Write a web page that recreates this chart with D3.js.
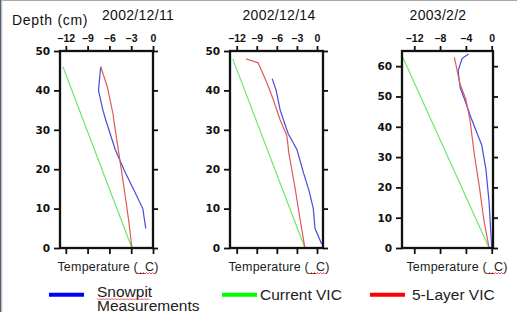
<!DOCTYPE html>
<html>
<head>
<meta charset="utf-8">
<script src="https://cdn.jsdelivr.net/npm/d3@7"></script>
<style>
  body { margin: 0; background: #fff; }
  svg { display: block; }
</style>
</head>
<body>
<svg id="chart" width="517" height="312"></svg>
<script>
// data: [temperature (C), depth (cm)]
var dates = ["2002/12/11", "2002/12/14", "2003/2/2"];
var xTicks = [[-12, -9, -6, -3, 0], [-12, -9, -6, -3, 0], [-12, -8, -4, 0]];
var yTicks = [[0, 10, 20, 30, 40, 50], [0, 10, 20, 30, 40, 50], [0, 10, 20, 30, 40, 50, 60]];

var snowpit1 = [[-7.2, 46], [-7.5, 40], [-6.9, 35], [-6.5, 32.5], [-5.2, 25], [-3.9, 19.5], [-2.7, 15], [-1.4, 10], [-1.0, 5]];
var current1 = [[-12.4, 46], [-2.9, 0]];
var layer1 = [[-7.2, 46], [-6.3, 41], [-5.5, 34], [-5.4, 32.5], [-4.7, 24], [-4.0, 15.5], [-3.35, 7], [-2.9, 0]];

var snowpit2 = [[-6.7, 43], [-6.1, 40], [-5.5, 35], [-5.0, 32.5], [-4.3, 29], [-3.0, 25], [-2.0, 19], [-1.15, 14.3], [-0.55, 10], [-0.3, 5], [0.7, 1]];
var current2 = [[-12.6, 48], [-1.8, 0]];
var layer2 = [[-10.6, 48], [-8.8, 47], [-7.5, 42], [-6.5, 37.5], [-5.5, 32.5], [-4.5, 28.5], [-4.2, 24], [-3.3, 15.5], [-2.5, 7], [-1.8, 0]];

var snowpit3 = [[-3.6, 64], [-4.6, 62.5], [-5.2, 58.5], [-4.9, 53], [-4.2, 49], [-3.2, 43], [-2.3, 38], [-1.55, 34], [-0.9, 26], [-0.4, 15], [0, 0]];
var current3 = [[-13.8, 63], [-0.4, 0]];
var layer3 = [[-5.8, 63], [-4.9, 54], [-4.0, 49], [-3.35, 42], [-2.7, 31], [-1.9, 20], [-1.2, 9], [-0.4, 0]];

var snowpit = [snowpit1, snowpit2, snowpit3];
var current = [current1, current2, current3];
var layer = [layer1, layer2, layer3];

var legendLabels = [["Snowpit", "Measurements"], ["Current VIC"], ["5-Layer VIC"]];

// layout
var plotTop = 51, plotBottom = 248;
var panels = [
  { left: 60, right: 153, xDomain: [-12.8, 0], yMax: 50, titleX: 138, labelX: 108 },
  { left: 230, right: 323, xDomain: [-13, 0.9], yMax: 50, titleX: 279, labelX: 279 },
  { left: 402, right: 493, xDomain: [-13.9, 0.2], yMax: 65, titleX: 438, labelX: 457 }
];
var colors = { blue: "#4a4ae0", green: "#6ee66e", red: "#e05a5a" };
var legendColors = ["#0000ff", "#00ff00", "#ff0000"];

var svg = d3.select("#chart");

// window frame
svg.append("rect").attr("width", 517).attr("height", 312).attr("fill", "#fff");
svg.append("line").attr("x1", 0).attr("x2", 517).attr("y1", 0.5).attr("y2", 0.5)
  .attr("stroke", "#a8a8a8").attr("stroke-width", 1);
svg.append("line").attr("x1", 0.75).attr("x2", 0.75).attr("y1", 0).attr("y2", 312)
  .attr("stroke", "#556070").attr("stroke-width", 1.5);
svg.append("line").attr("x1", 2).attr("x2", 2).attr("y1", 0).attr("y2", 312)
  .attr("stroke", "#d0d4da").attr("stroke-width", 1);

svg.append("text")
  .attr("x", 12).attr("y", 25)
  .attr("font-family", "Liberation Sans, Arial, sans-serif")
  .attr("font-size", 14).attr("letter-spacing", 0.7)
  .attr("fill", "#111")
  .text("Depth (cm)");

function squiggle(x0, x1, y) {
  var pts = [];
  for (var x = x0, i = 0; x <= x1; x += 1.5, i++) pts.push([x, y + (i % 2 ? 1 : -0.5)]);
  svg.append("path").attr("d", d3.line()(pts))
    .attr("fill", "none").attr("stroke", "#e03030").attr("stroke-width", 0.8);
}

panels.forEach(function (p, i) {
  var x = d3.scaleLinear().domain(p.xDomain).range([p.left, p.right]);
  var y = d3.scaleLinear().domain([0, p.yMax]).range([plotBottom, plotTop]);
  var g = svg.append("g");

  // title
  g.append("text")
    .attr("x", p.titleX).attr("y", 20)
    .attr("text-anchor", "middle")
    .attr("font-family", "Liberation Sans, Arial, sans-serif")
    .attr("font-size", 14).attr("letter-spacing", 0.3)
    .attr("fill", "#111")
    .text(dates[i]);

  // series
  var line = d3.line().x(function (d) { return x(d[0]); }).y(function (d) { return y(d[1]); });
  g.append("path").datum(current[i]).attr("d", line)
    .attr("fill", "none").attr("stroke", colors.green).attr("stroke-width", 1.2);
  g.append("path").datum(snowpit[i]).attr("d", line)
    .attr("fill", "none").attr("stroke", colors.blue).attr("stroke-width", 1.2);
  g.append("path").datum(layer[i]).attr("d", line)
    .attr("fill", "none").attr("stroke", colors.red).attr("stroke-width", 1.2);

  // axes
  var axT = g.append("g").attr("transform", "translate(0," + plotTop + ")")
    .call(d3.axisTop(x).tickValues(xTicks[i]).tickSize(5).tickSizeOuter(0).tickPadding(4)
      .tickFormat(function (d) { return d < 0 ? "\u2013" + Math.abs(d) : d; }));
  axT.selectAll("text").attr("font-family", "Liberation Sans, Arial, sans-serif")
    .attr("font-size", 10.5).attr("font-weight", "bold").attr("fill", "#111");

  var axB = g.append("g").attr("transform", "translate(0," + plotBottom + ")")
    .call(d3.axisBottom(x).tickValues(xTicks[i]).tickSize(6).tickSizeOuter(0).tickFormat(""));

  var axL = g.append("g").attr("transform", "translate(" + p.left + ",0)")
    .call(d3.axisLeft(y).tickValues(yTicks[i]).tickSize(6).tickSizeOuter(0).tickPadding(4));
  axL.selectAll("text").attr("font-family", "DejaVu Sans, sans-serif")
    .attr("font-size", 10.5).attr("font-weight", "bold").attr("fill", "#111");

  var axR = g.append("g").attr("transform", "translate(" + p.right + ",0)")
    .call(d3.axisRight(y).tickValues(yTicks[i]).tickSize(5).tickSizeOuter(0).tickFormat(""));

  [axT, axB, axL, axR].forEach(function (a) {
    a.select(".domain").remove();
    a.selectAll(".tick line").attr("stroke", "#111").attr("stroke-width", 1.8);
  });

  g.append("rect")
    .attr("x", p.left).attr("y", plotTop)
    .attr("width", p.right - p.left).attr("height", plotBottom - plotTop)
    .attr("fill", "none").attr("stroke", "#111").attr("stroke-width", 2.3);

  // x label
  var lbl = g.append("text")
    .attr("x", p.labelX).attr("y", 271)
    .attr("text-anchor", "middle")
    .attr("font-family", "Liberation Sans, Arial, sans-serif")
    .attr("font-size", 12.5).attr("letter-spacing", 0.2)
    .attr("fill", "#222")
    .text("Temperature (_C)");
  var bb = lbl.node().getBBox();
  squiggle(bb.x + bb.width - 21, bb.x + bb.width - 3, 273);
});

// legend
var legX = [[49, 84, 97], [222, 257, 260], [370, 405, 412]];
legendLabels.forEach(function (labels, i) {
  svg.append("line")
    .attr("x1", legX[i][0]).attr("x2", legX[i][1])
    .attr("y1", 294.7).attr("y2", 294.7)
    .attr("stroke", legendColors[i]).attr("stroke-width", 4);
  var t = svg.append("text")
    .attr("x", legX[i][2]).attr("y", labels.length > 1 ? 296.5 : 300)
    .attr("font-family", "Liberation Sans, Arial, sans-serif")
    .attr("font-size", 15.5)
    .attr("fill", "#222");
  labels.forEach(function (s, j) {
    t.append("tspan").attr("x", legX[i][2]).attr("dy", j ? 14.8 : 0).text(s);
  });
});
squiggle(97, 150, 299);
</script>
</body>
</html>
